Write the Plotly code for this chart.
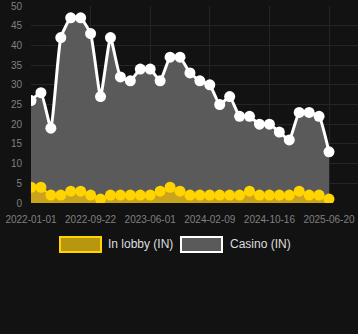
import plotly.graph_objects as go

dates = ["2022-01-01", "2022-02-14", "2022-03-30", "2022-05-13", "2022-06-26", "2022-08-09",
         "2022-09-22", "2022-11-03", "2022-12-15", "2023-01-26", "2023-03-09", "2023-04-20",
         "2023-06-01", "2023-07-14", "2023-08-26", "2023-10-08", "2023-11-19", "2023-12-31",
         "2024-02-09", "2024-03-22", "2024-05-03", "2024-06-14", "2024-07-25", "2024-09-05",
         "2024-10-16", "2024-11-26", "2025-01-06", "2025-02-16", "2025-03-29", "2025-05-09",
         "2025-06-20"]
casino = [26, 28, 19, 42, 47, 47, 43, 27, 42, 32, 31, 34, 34, 31, 37, 37, 33, 31, 30, 25,
          27, 22, 22, 20, 20, 18, 16, 23, 23, 22, 13]
lobby = [4, 4, 2, 2, 3, 3, 2, 1, 2, 2, 2, 2, 2, 3, 4, 3, 2, 2, 2, 2, 2, 2, 3, 2, 2, 2, 2,
         3, 2, 2, 1]
tick_labels = dates[::6]
y_ticks = list(range(0, 51, 5))

W, H = 358, 334
L, R, T, B = 31, 0, 6, 131
pw, ph = W - L - R, H - T - B

def px(x):
    return (x - L) / pw

def py(y):
    return (H - B - y) / ph

fig = go.Figure()
fig.add_trace(go.Scatter(
    x=dates, y=casino, mode="lines+markers", name="Casino (IN)",
    line=dict(color="#ffffff", width=3, shape="spline", smoothing=0.4),
    marker=dict(color="#ffffff", size=11),
    fill="tozeroy", fillcolor="#5a5a5a", showlegend=False))
fig.add_trace(go.Scatter(
    x=dates, y=lobby, mode="lines+markers", name="In lobby (IN)",
    line=dict(color="#ffd400", width=2, shape="spline", smoothing=0.4),
    marker=dict(color="#ffd400", size=11),
    fill="tozeroy", fillcolor="#c9a41c", showlegend=False))

last = len(dates) - 1
fig.update_layout(
    width=W, height=H,
    margin=dict(l=L, r=R, t=T, b=B),
    paper_bgcolor="#121212", plot_bgcolor="#121212",
    font=dict(family="Liberation Sans, Arial, sans-serif", size=10, color="#808080"),
    xaxis=dict(type="category", range=[0, last * pw / 298.0],
               tickmode="array", tickvals=tick_labels, ticktext=tick_labels,
               showgrid=True, gridcolor="#252525", gridwidth=1,
               zeroline=False, showline=False, ticks="", ticklabelstandoff=9,
               tickfont=dict(size=10, color="#808080")),
    yaxis=dict(range=[0, 50], tickmode="array", tickvals=y_ticks,
               showgrid=True, gridcolor="#252525", gridwidth=1, zeroline=False,
               ticks="", ticklabelstandoff=8, ticklabeloverflow="allow",
               tickfont=dict(size=10, color="#808080")),
    showlegend=False,
)

# legend drawn manually
fig.add_shape(type="rect", xref="paper", yref="paper",
              x0=px(60), x1=px(101), y0=py(237), y1=py(252),
              line=dict(color="#ffd400", width=2), fillcolor="#b8960f")
fig.add_shape(type="rect", xref="paper", yref="paper",
              x0=px(181), x1=px(222), y0=py(237), y1=py(252),
              line=dict(color="#ffffff", width=2), fillcolor="#5a5a5a")
fig.add_annotation(xref="paper", yref="paper", x=px(106), y=py(244.5), text="In lobby (IN)",
                   showarrow=False, xanchor="left", yanchor="middle",
                   font=dict(size=12, color="#dddddd"))
fig.add_annotation(xref="paper", yref="paper", x=px(228), y=py(244.5), text="Casino (IN)",
                   showarrow=False, xanchor="left", yanchor="middle",
                   font=dict(size=12, color="#dddddd"))

fig.write_html("out.html")
